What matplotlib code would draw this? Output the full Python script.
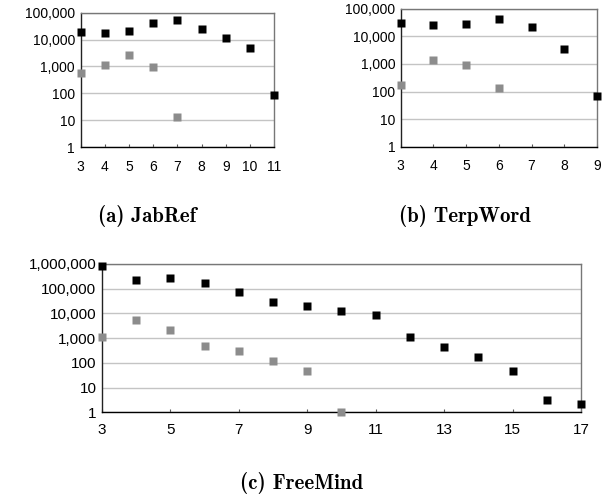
import os
import matplotlib
matplotlib.use("Agg")
import matplotlib.pyplot as plt
from matplotlib.font_manager import FontProperties
from matplotlib.ticker import FuncFormatter, FixedLocator, NullLocator

plt.rcParams['font.family'] = ['Liberation Sans', 'DejaVu Sans']

# (a) JabRef
jab_x_black = [3, 4, 5, 6, 7, 8, 9, 10, 11]
jab_y_black = [18500, 17000, 21000, 42000, 53000, 25700, 11800, 4900, 87]
jab_x_gray = [3, 4, 5, 6, 7]
jab_y_gray = [570, 1150, 2700, 920, 13]

# (b) TerpWord
terp_x_black = [3, 4, 5, 6, 7, 8, 9]
terp_y_black = [29500, 25000, 27700, 42000, 21700, 3460, 69]
terp_x_gray = [3, 4, 5, 6]
terp_y_gray = [167, 1350, 910, 138]

# (c) FreeMind
free_x_black = [3, 4, 5, 6, 7, 8, 9, 10, 11, 12, 13, 14, 15, 16, 17]
free_y_black = [850000, 218000, 270000, 175000, 76000, 30000, 20000, 13000,
                8600, 1150, 425, 167, 48, 3.2, 2.1]
free_x_gray = [3, 4, 5, 6, 7, 8, 9, 10]
free_y_gray = [1080, 5600, 2140, 465, 300, 123, 48, 1]

BLACK = "#000000"
GRAY = "#8c8c8c"

cmb = os.path.join(matplotlib.get_data_path(), "fonts", "ttf", "cmb10.ttf")
legenda_fp = FontProperties(fname=cmb, size=15)


def fmt(v, pos):
    return "{:,}".format(int(round(v)))


def desenha(ax, xb, yb, xg, yg, xticks, ymax, fs, xpad, ms):
    ax.set_yscale("log")
    ax.set_xlim(xticks[0], xticks[-1])
    ax.set_ylim(1, ymax)
    yticks = []
    v = 1
    while v <= ymax:
        yticks.append(v)
        v *= 10
    ax.yaxis.set_major_locator(FixedLocator(yticks))
    ax.yaxis.set_minor_locator(NullLocator())
    ax.yaxis.set_major_formatter(FuncFormatter(fmt))
    ax.set_xticks(xticks)
    ax.grid(axis="y", color="#c4c4c4", lw=1.0)
    ax.set_axisbelow(True)
    ax.plot(xg, yg, "s", color=GRAY, ms=ms, mec="none", clip_on=False, zorder=3)
    ax.plot(xb, yb, "s", color=BLACK, ms=ms, mec="none", clip_on=False, zorder=4)
    ax.tick_params(axis="x", direction="in", length=2, width=0.8, color="#555555",
                   labelsize=fs, pad=xpad)
    ax.tick_params(axis="y", length=0, labelsize=fs, pad=4)
    ax.spines["left"].set_color("#222222")
    ax.spines["bottom"].set_color("#000000")
    ax.spines["top"].set_color("#777777")
    ax.spines["right"].set_color("#777777")
    for s in ax.spines.values():
        s.set_linewidth(1.0)


fig = plt.figure(figsize=(6.1, 4.98), dpi=100)

ax1 = fig.add_axes([0.132, 0.7048, 0.3177, 0.2697])
desenha(ax1, jab_x_black, jab_y_black, jab_x_gray, jab_y_gray,
        [3, 4, 5, 6, 7, 8, 9, 10, 11], 100000, 10, 9, 5.4)

ax2 = fig.add_axes([0.6569, 0.7054, 0.3218, 0.2771])
desenha(ax2, terp_x_black, terp_y_black, terp_x_gray, terp_y_gray,
        [3, 4, 5, 6, 7, 8, 9], 100000, 10, 9, 5.4)

ax3 = fig.add_axes([0.1672, 0.1721, 0.7852, 0.2978])
desenha(ax3, free_x_black, free_y_black, free_x_gray, free_y_gray,
        [3, 5, 7, 9, 11, 13, 15, 17], 1000000, 11, 8, 5.8)

fig.text(0.241, 0.566, "(a) JabRef", ha="center", va="center", fontproperties=legenda_fp)
fig.text(0.762, 0.566, "(b) TerpWord", ha="center", va="center", fontproperties=legenda_fp)
fig.text(0.495, 0.030, "(c) FreeMind", ha="center", va="center", fontproperties=legenda_fp)

fig.savefig("out.png", dpi=100)
